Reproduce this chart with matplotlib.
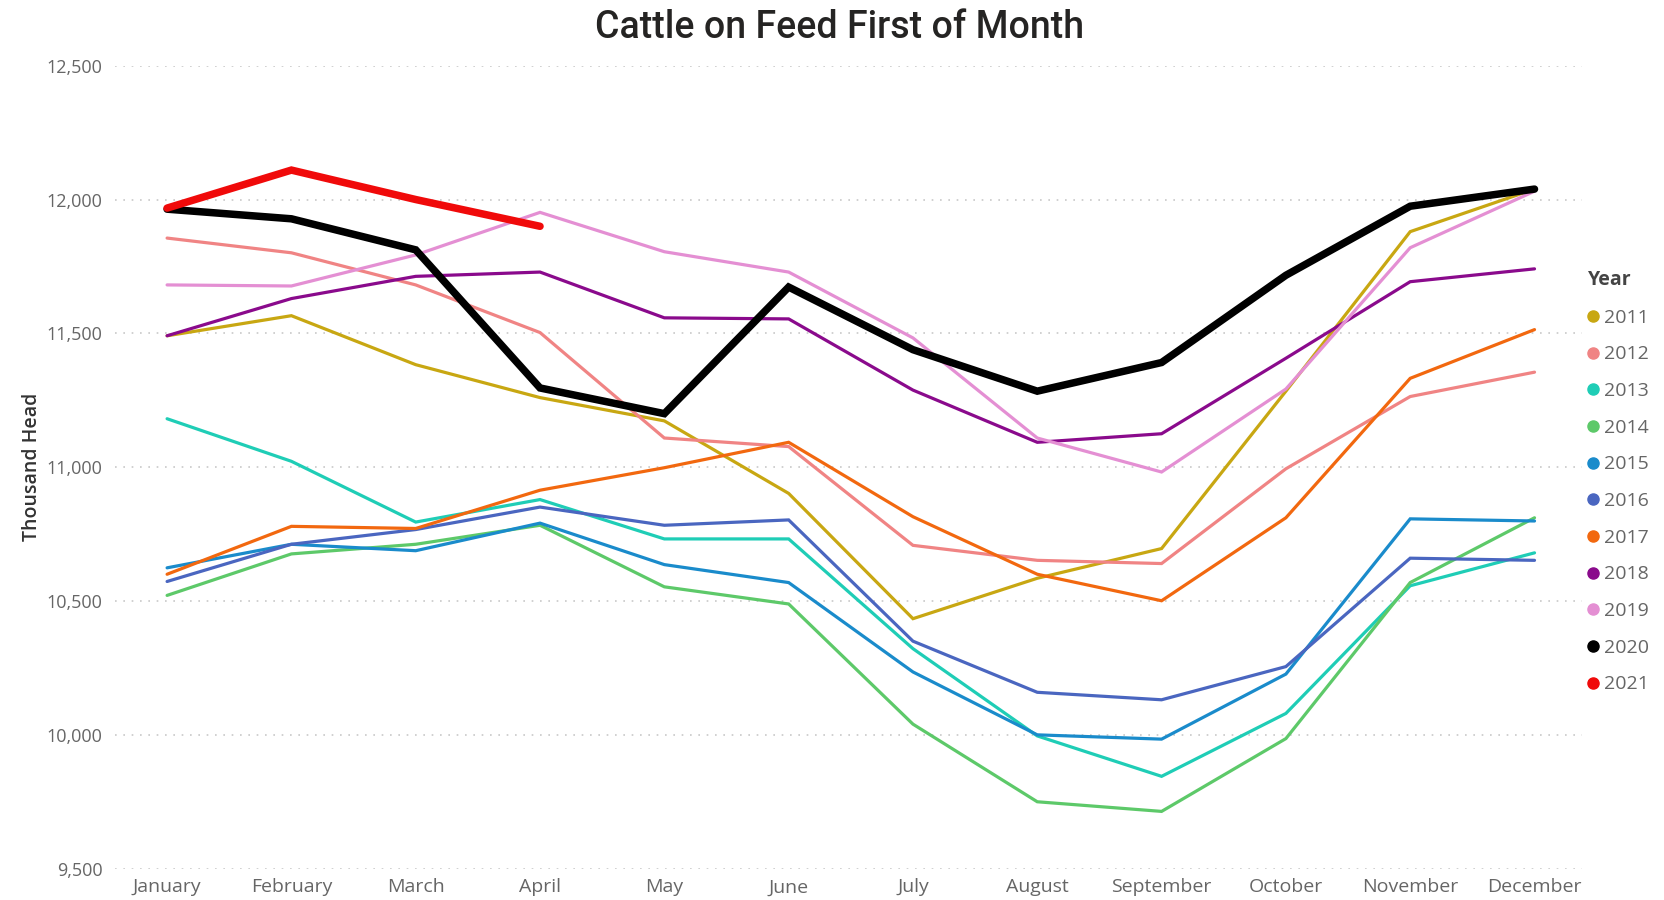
import matplotlib
matplotlib.use("Agg")
import matplotlib.pyplot as plt
from matplotlib.lines import Line2D

months = ["January", "February", "March", "April", "May", "June",
          "July", "August", "September", "October", "November", "December"]

# thousand head, first of month
y2011 = [11491, 11566, 11383, 11260, 11173, 10902, 10434, 10585, 10696, 11284, 11880, 12039]
y2012 = [11856, 11801, 11681, 11503, 11109, 11077, 10708, 10652, 10640, 10994, 11264, 11355]
y2013 = [11181, 11022, 10795, 10879, 10732, 10732, 10322, 9996, 9845, 10080, 10557, 10680]
y2014 = [10521, 10676, 10712, 10783, 10553, 10489, 10040, 9750, 9714, 9986, 10569, 10811]
y2015 = [10624, 10712, 10688, 10791, 10636, 10569, 10235, 10000, 9984, 10227, 10807, 10799]
y2016 = [10573, 10712, 10767, 10851, 10783, 10803, 10350, 10159, 10131, 10255, 10660, 10652]
y2017 = [10600, 10779, 10771, 10914, 10998, 11093, 10815, 10600, 10501, 10811, 11332, 11514]
y2018 = [11491, 11630, 11713, 11729, 11558, 11554, 11288, 11093, 11125, 11407, 11693, 11741]
y2019 = [11681, 11677, 11793, 11952, 11805, 11729, 11483, 11109, 10982, 11292, 11820, 12031]
y2020 = [11964, 11928, 11812, 11296, 11200, 11673, 11439, 11284, 11391, 11717, 11975, 12039]
y2021 = [11968, 12110, 12000, 11900]

years = ["2011", "2012", "2013", "2014", "2015", "2016", "2017", "2018", "2019", "2020", "2021"]
series = [y2011, y2012, y2013, y2014, y2015, y2016, y2017, y2018, y2019, y2020, y2021]
colors = ["#C8A712", "#F08484", "#1FCDB6", "#5DC969", "#1A8BCB", "#4A66C0",
          "#F2680F", "#8A0A8C", "#E48FD3", "#000000", "#F00A0A"]

fig = plt.figure(figsize=(16.65, 9), dpi=100)
ax = fig.add_axes([0.069, 0.0348, 0.881, 0.8922])

x = list(range(len(months)))
for yr, vals, c in zip(years, series, colors):
    lw = 5.4 if yr in ("2020", "2021") else 2.3
    ax.plot(x[:len(vals)], vals, color=c, lw=lw, solid_joinstyle="miter",
            solid_capstyle="round", zorder=3 if lw > 3 else 2)

ax.set_ylim(9500, 12500)
ax.set_xlim(-0.42, 11.38)
ax.set_yticks([9500, 10000, 10500, 11000, 11500, 12000, 12500])
ax.set_yticklabels(["{:,}".format(v) for v in ax.get_yticks().astype(int)])
ax.set_xticks(x)
ax.set_xticklabels(months)
ax.tick_params(axis="both", length=0, labelsize=13, colors="#666666",
               labelfontfamily="Open Sans")
ax.tick_params(axis="x", pad=7, labelsize=14)
ax.tick_params(axis="y", pad=9)
ax.grid(axis="y", linestyle=(0, (1, 4)), color="#C8C8C8", lw=1.2)
ax.set_axisbelow(True)
for s in ax.spines.values():
    s.set_visible(False)

ax.set_ylabel("Thousand Head", fontsize=14, color="#333333", family="Open Sans",
              fontweight="semibold", labelpad=3)
fig.suptitle("Cattle on Feed First of Month", x=0.504, y=0.99, fontsize=27,
             color="#252423", family="Roboto", fontweight="medium")

handles = [Line2D([], [], ls="none", marker="o", ms=8, color=c) for c in colors]
leg = fig.legend(handles, years, loc="upper left", bbox_to_anchor=(0.954, 0.700),
                 frameon=False, title="Year", alignment="left", fontsize=14,
                 handlelength=0.5, handletextpad=0.3, labelspacing=0.96,
                 borderpad=0, borderaxespad=0,
                 title_fontproperties={"size": 14, "weight": "bold", "family": "Open Sans"},
                 prop={"family": "Open Sans", "size": 14})
leg.get_title().set_color("#444444")
for t in leg.get_texts():
    t.set_color("#666666")

fig.savefig("out.png", dpi=100)
